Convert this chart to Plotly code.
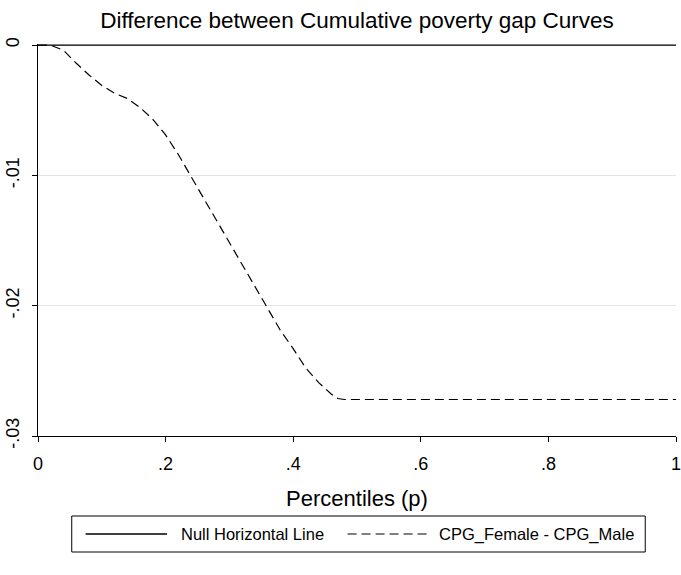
import plotly.graph_objects as go

# Percentile grid and the difference CPG_Female - CPG_Male
percentiles = [0.00, 0.02, 0.04, 0.06, 0.08, 0.10, 0.12, 0.14, 0.16, 0.18,
               0.20, 0.22, 0.24, 0.26, 0.28, 0.30, 0.32, 0.34, 0.36, 0.38,
               0.40, 0.42, 0.44, 0.46, 0.47, 0.48, 0.50, 0.60, 0.70, 0.80,
               0.90, 1.00]
cpg_diff = [0.0, -0.00002, -0.0004, -0.0014, -0.0023, -0.0031, -0.0037,
            -0.0041, -0.0048, -0.0057, -0.0069, -0.0084, -0.0101, -0.0118,
            -0.0135, -0.0152, -0.0169, -0.0186, -0.0203, -0.0219, -0.0233,
            -0.0248, -0.0259, -0.0268, -0.02712, -0.0272, -0.0272, -0.0272,
            -0.0272, -0.0272, -0.0272, -0.0272]

null_x = [0.0, 1.0]
null_y = [0.0, 0.0]

x_ticks = [0, 0.2, 0.4, 0.6, 0.8, 1.0]
x_tick_labels = ["0", ".2", ".4", ".6", ".8", "1"]
y_ticks = [0, -0.01, -0.02, -0.03]
y_tick_labels = ["0", "-.01", "-.02", "-.03"]

legend_names = ["Null Horizontal Line", "CPG_Female - CPG_Male"]

FONT = "Arial, Liberation Sans, sans-serif"
DASH = "9px,5px"

# plot area in pixels: x 38..681, y 44..436
PL, PR, PT, PB = 38, 681, 44, 436
W, H = PR - PL, PB - PT


def px(x):
    return (x - PL) / W


def py(y):
    return (PB - y) / H


fig = go.Figure()
fig.add_trace(go.Scatter(x=null_x, y=null_y, mode="lines", name=legend_names[0],
                         line=dict(color="black", width=1.3),
                         showlegend=False, cliponaxis=False))
fig.add_trace(go.Scatter(x=percentiles, y=cpg_diff, mode="lines", name=legend_names[1],
                         line=dict(color="black", width=1.2, dash=DASH),
                         showlegend=False))

# Hand-drawn legend box underneath the plot
fig.add_shape(type="rect", xref="paper", yref="paper",
              x0=px(72), x1=px(650), y0=py(552), y1=py(516),
              line=dict(color="black", width=1), fillcolor="white")
ly = py(534)
fig.add_shape(type="line", xref="paper", yref="paper",
              x0=px(86), x1=px(168), y0=ly, y1=ly,
              line=dict(color="black", width=1.3))
fig.add_shape(type="line", xref="paper", yref="paper",
              x0=px(350), x1=px(433), y0=ly, y1=ly,
              line=dict(color="black", width=1.2, dash=DASH))
fig.add_annotation(xref="paper", yref="paper", x=px(180), y=ly,
                   text=legend_names[0], showarrow=False, xanchor="left",
                   yanchor="middle", font=dict(family=FONT, size=16.5, color="black"))
fig.add_annotation(xref="paper", yref="paper", x=px(440), y=ly,
                   text=legend_names[1], showarrow=False, xanchor="left",
                   yanchor="middle", font=dict(family=FONT, size=16.5, color="black"))

fig.update_layout(
    width=681, height=575,
    margin=dict(l=PL, r=0, t=PT, b=575 - PB),
    paper_bgcolor="white", plot_bgcolor="white",
    font=dict(family=FONT, color="black"),
    title=dict(text="Difference between Cumulative poverty gap Curves",
               x=0.5, xref="paper", y=1 - 20 / 575, yanchor="middle",
               font=dict(family=FONT, size=22.5, color="black")),
    showlegend=False,
)
fig.update_xaxes(range=[0, 1], tickvals=x_ticks, ticktext=x_tick_labels,
                 showgrid=False, zeroline=False, showline=True,
                 linecolor="black", linewidth=1.3, ticks="outside",
                 ticklen=5, tickcolor="black", tickwidth=1.2,
                 ticklabeloverflow="allow",
                 tickfont=dict(family=FONT, size=18), ticklabelstandoff=6,
                 title=dict(text="Percentiles (p)", standoff=17,
                            font=dict(family=FONT, size=22)))
fig.update_yaxes(range=[-0.03, 0.00008], tickvals=y_ticks, ticktext=y_tick_labels,
                 showgrid=True, gridcolor="#e3e3e3", gridwidth=1,
                 zeroline=False, showline=True, linecolor="black",
                 linewidth=1.3, ticks="outside", ticklen=5, tickcolor="black",
                 tickwidth=1.2, tickangle=-90,
                 tickfont=dict(family=FONT, size=18), ticklabelstandoff=6)

fig.write_html("out.html")
